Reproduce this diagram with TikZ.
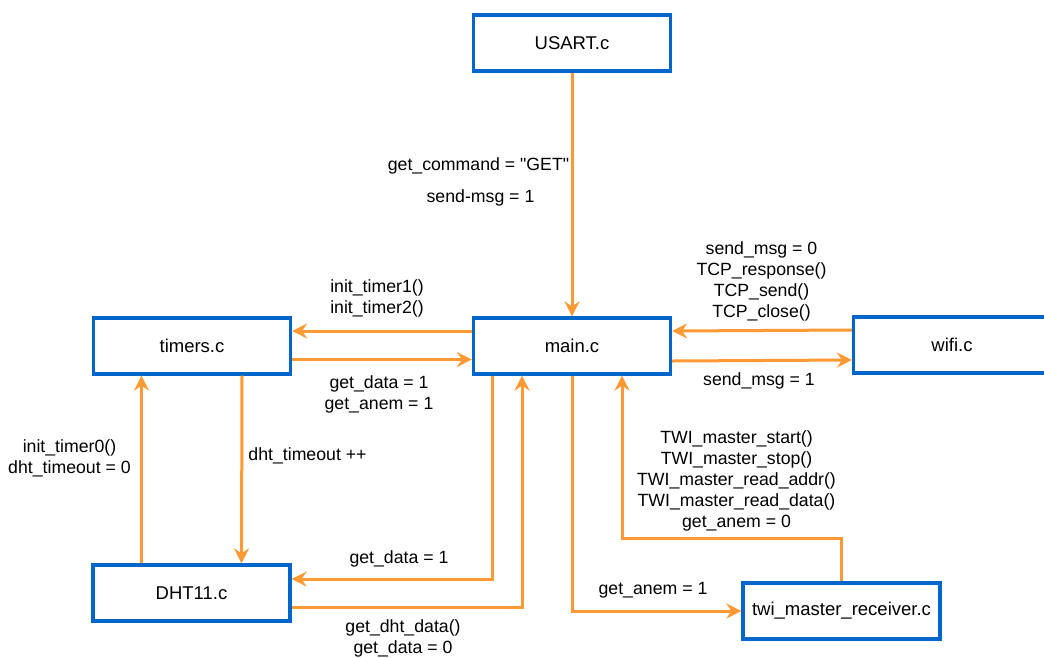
\documentclass[tikz,border=0pt]{standalone}
\usepackage{fontspec}
\setmainfont{Liberation Sans}
\usetikzlibrary{arrows.meta}
\definecolor{boxblue}{HTML}{0066CC}
\definecolor{floworange}{HTML}{FF9933}

\begin{document}
\begin{tikzpicture}[x=1pt,y=-1pt,
    box/.style={draw=boxblue, line width=3.2pt, fill=white, minimum width=197pt, minimum height=56pt, inner sep=0pt, font=\fontsize{18.5}{22}\selectfont},
    flow/.style={draw=floworange, line width=3pt, -{Stealth[length=15pt,width=15pt,inset=5pt]}},
    lbl/.style={align=center, inner sep=0pt, font=\fontsize{17.7}{21}\selectfont}]
        \useasboundingbox (0,0) rectangle (1044,657);
        \node[box] (usart) at (572,43) {USART.c};
        \node[box] (timers) at (192,346) {timers.c};
        \node[box] (main) at (572,346) {main.c};
        \node[box] (wifi) at (952,345) {wifi.c};
        \node[box] (dht) at (191.5,593) {DHT11.c};
        \node[box] (twi) at (841.5,611) {twi\_master\_receiver.c};

        \draw[flow] (usart.south) -- (main.north);
        \draw[flow] ([yshift=15pt]main.west) -- ([yshift=15pt]timers.east);
        \draw[flow] ([yshift=-13.5pt]timers.east) -- ([yshift=-13.5pt]main.west);
        \draw[flow] ([yshift=15pt]wifi.west) -- ([yshift=15pt]main.east);
        \draw[flow] ([yshift=-15pt]main.east) -- ([yshift=-15pt]wifi.west);
        \draw[flow] ([xshift=-50pt]dht.north) -- ([xshift=-50.5pt]timers.south);
        \draw[flow] ([xshift=50pt]timers.south) -- ([xshift=50pt]dht.north);
        \draw[flow] ([xshift=-80pt]main.south) |- ([yshift=14pt]dht.east);
        \draw[flow] ([yshift=-14.5pt]dht.east) -| ([xshift=-50pt]main.south);
        \draw[flow] (main.south) |- (twi.west);
        \draw[flow] (twi.north) -- ([yshift=43pt]twi.north) -| ([xshift=50pt]main.south);

        \node[lbl] (getcmd) at (478.5,166) {get\_command = \textquotedbl GET\textquotedbl};
        \node[lbl] (sendone) at (480.5,198) {send-msg = 1};
        \node[lbl] (tcp) at (761.5,281) {send\_msg = 0\\TCP\_response()\\TCP\_send()\\TCP\_close()};
        \node[lbl] (wifimsg) at (759,381) {send\_msg = 1};
        \node[lbl] (inittimers) at (377,298) {init\_timer1()\\init\_timer2()};
        \node[lbl] (getflags) at (379,394.5) {get\_data = 1\\get\_anem = 1};
        \node[lbl] (inittimer0) at (69.5,458) {init\_timer0()\\dht\_timeout = 0};
        \node[lbl] (timeout) at (307.5,456) {dht\_timeout ++};
        \node[lbl] (getdata) at (399,559) {get\_data = 1};
        \node[lbl] (dhtdata) at (403,638.5) {get\_dht\_data()\\get\_data = 0};
        \node[lbl] (getanem) at (653,590) {get\_anem = 1};
        \node[lbl] (twicalls) at (736.5,481) {TWI\_master\_start()\\TWI\_master\_stop()\\TWI\_master\_read\_addr()\\TWI\_master\_read\_data()\\get\_anem = 0};
    \end{tikzpicture}
\end{document}
